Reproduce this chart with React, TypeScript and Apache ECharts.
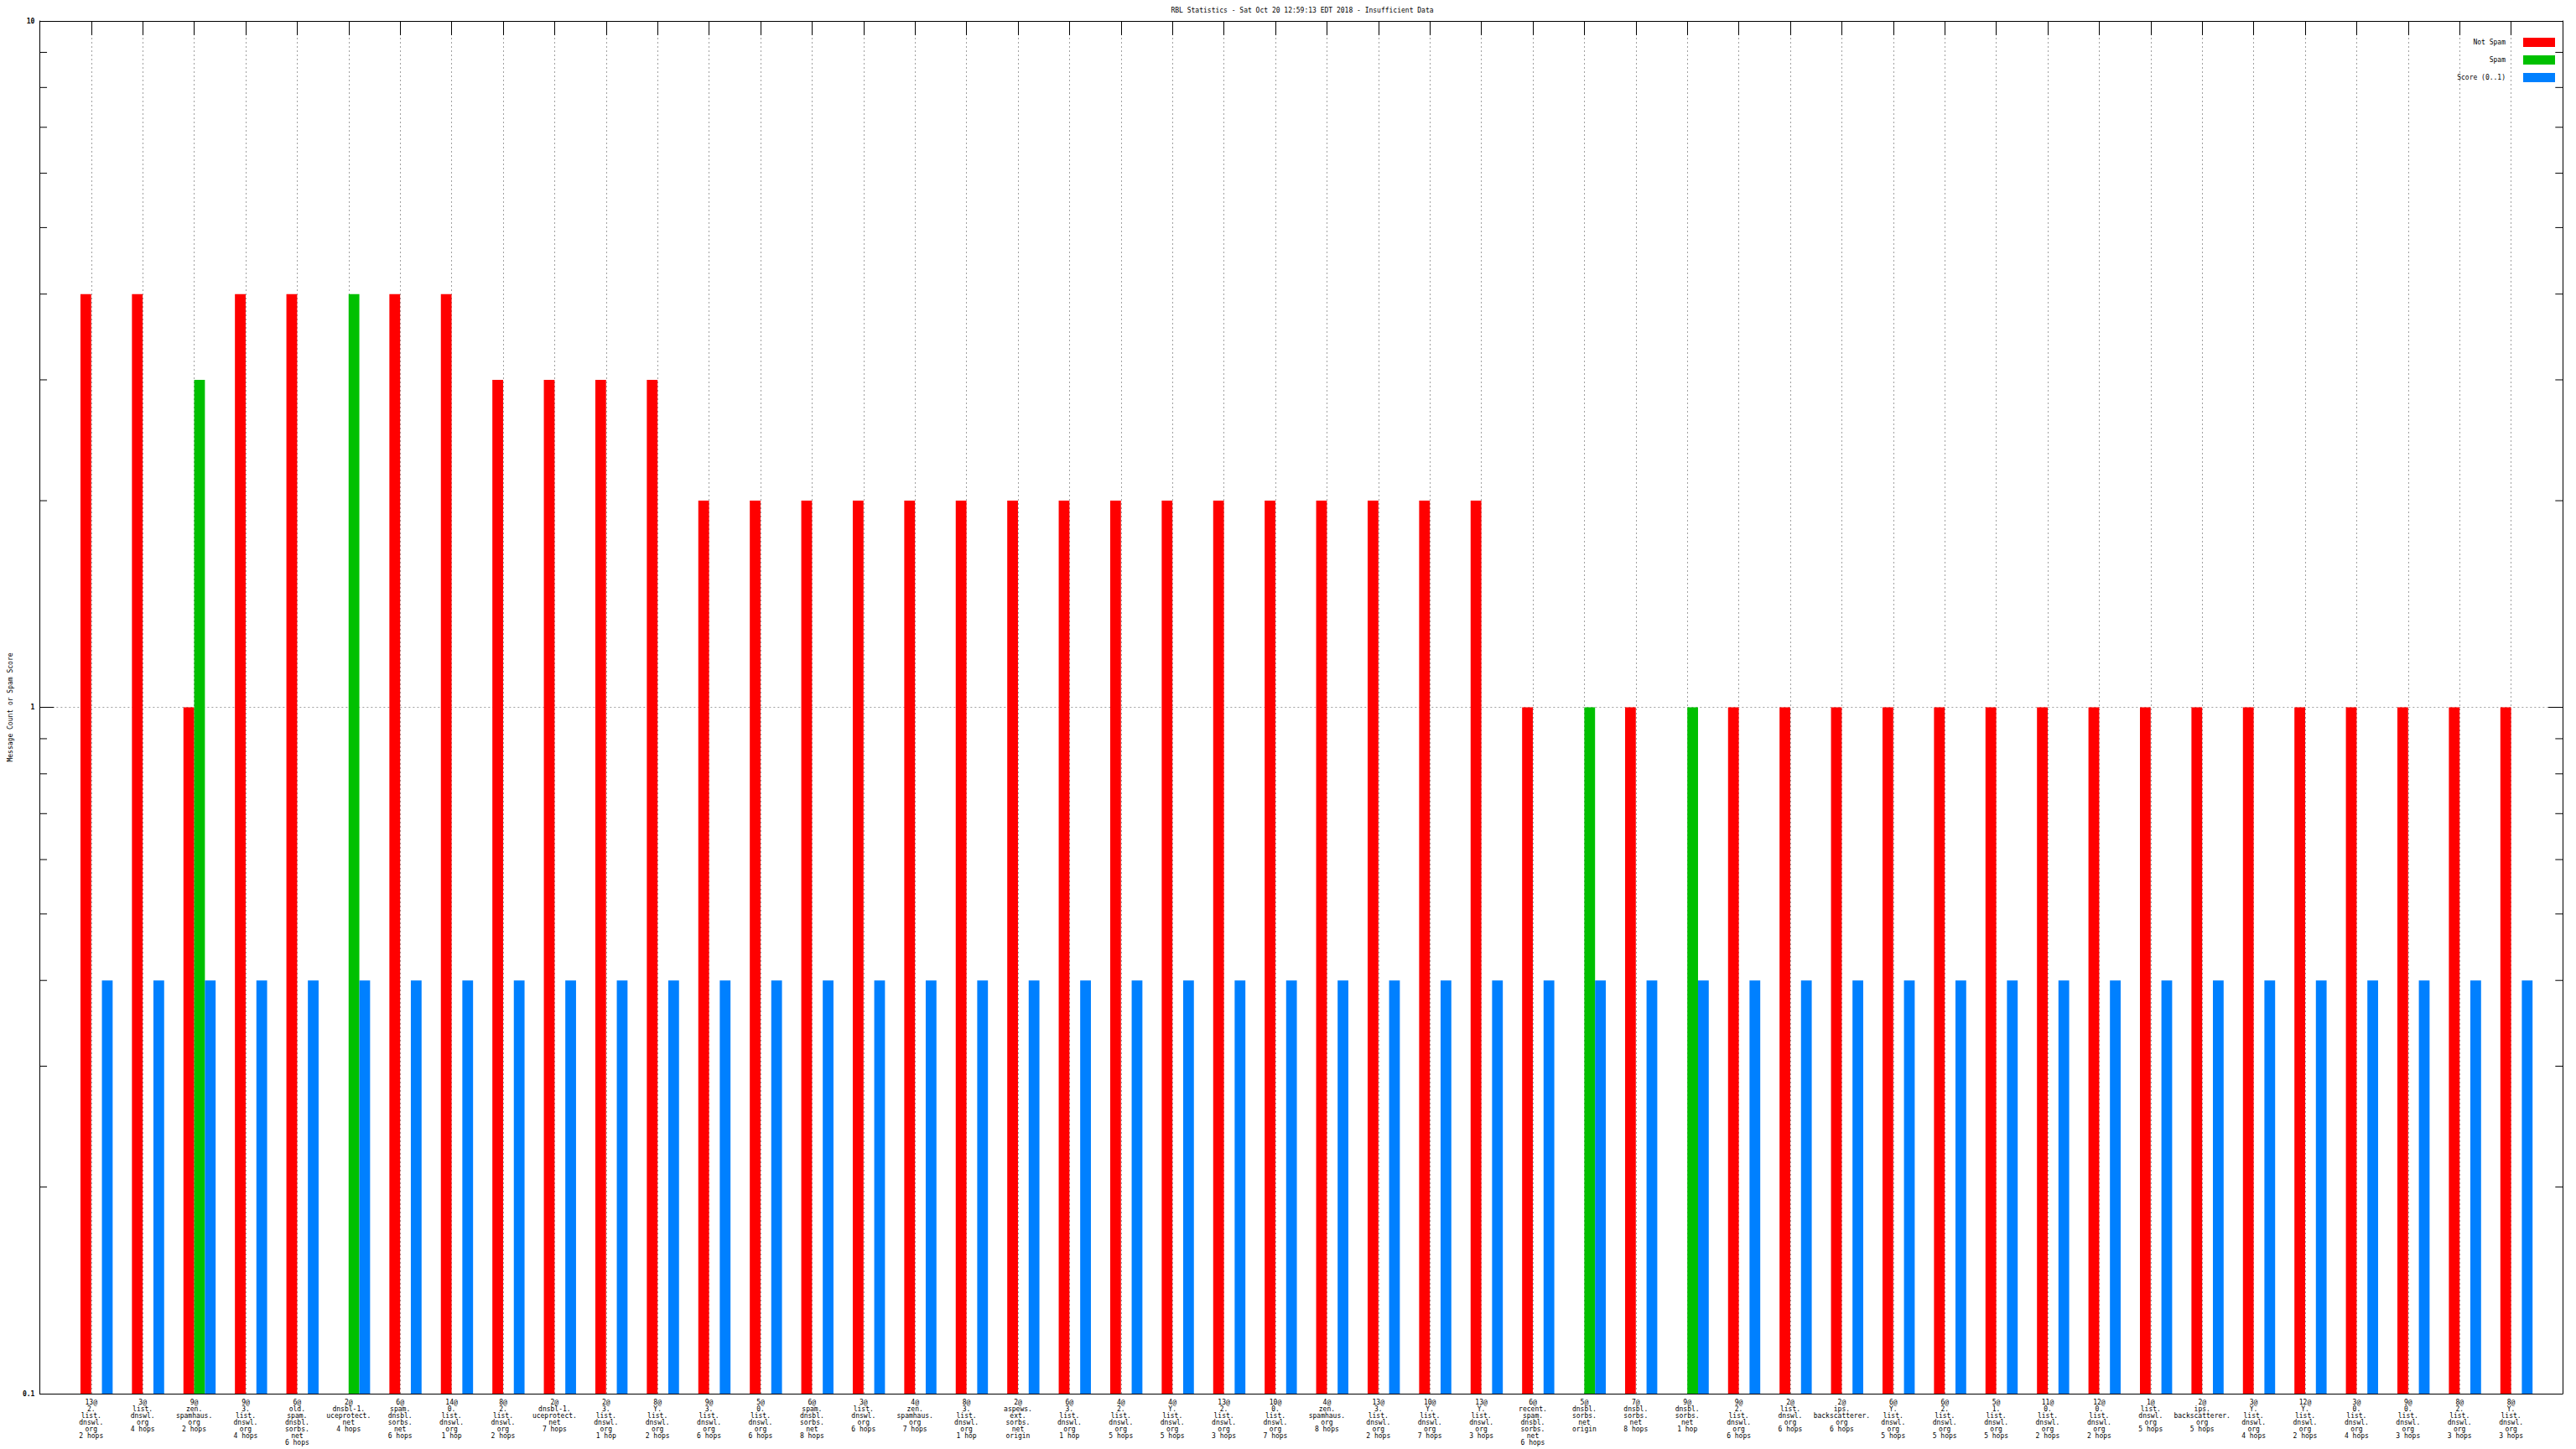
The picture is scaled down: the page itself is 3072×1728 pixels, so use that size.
import React, { useEffect, useRef } from "react";
import * as echarts from "echarts";

const TITLE = "RBL Statistics - Sat Oct 20 12:59:13 EDT 2018 - Insufficient Data";
const Y_NAME = "Message Count or Spam Score";
const SERIES_NAMES = ["Not Spam", "Spam", "Score (0..1)"];

const counts = [13, 3, 9, 9, 6, 2, 6, 14, 8, 2, 2, 8, 9, 5, 6, 3, 4, 8, 2, 6, 4, 4, 13, 10, 4, 13, 10, 13, 6, 5, 7, 9, 9, 2, 2, 6, 6, 5, 11, 12, 1, 2, 3, 12, 3, 9, 8, 8];

const hosts = [
  "2.list.dnswl.org", "list.dnswl.org", "zen.spamhaus.org", "3.list.dnswl.org",
  "old.spam.dnsbl.sorbs.net", "dnsbl-1.uceprotect.net", "spam.dnsbl.sorbs.net", "0.list.dnswl.org",
  "2.list.dnswl.org", "dnsbl-1.uceprotect.net", "3.list.dnswl.org", "Y.list.dnswl.org",
  "3.list.dnswl.org", "0.list.dnswl.org", "spam.dnsbl.sorbs.net", "list.dnswl.org",
  "zen.spamhaus.org", "3.list.dnswl.org", "aspews.ext.sorbs.net", "3.list.dnswl.org",
  "2.list.dnswl.org", "Y.list.dnswl.org", "2.list.dnswl.org", "0.list.dnswl.org",
  "zen.spamhaus.org", "3.list.dnswl.org", "Y.list.dnswl.org", "Y.list.dnswl.org",
  "recent.spam.dnsbl.sorbs.net", "dnsbl.sorbs.net", "dnsbl.sorbs.net", "dnsbl.sorbs.net",
  "2.list.dnswl.org", "list.dnswl.org", "ips.backscatterer.org", "Y.list.dnswl.org",
  "2.list.dnswl.org", "1.list.dnswl.org", "0.list.dnswl.org", "0.list.dnswl.org",
  "list.dnswl.org", "ips.backscatterer.org", "Y.list.dnswl.org", "Y.list.dnswl.org",
  "0.list.dnswl.org", "0.list.dnswl.org", "2.list.dnswl.org", "Y.list.dnswl.org",
];

const hops = [
  "2 hops", "4 hops", "2 hops", "4 hops", "6 hops", "4 hops", "6 hops", "1 hop",
  "2 hops", "7 hops", "1 hop", "2 hops", "6 hops", "6 hops", "8 hops", "6 hops",
  "7 hops", "1 hop", "origin", "1 hop", "5 hops", "5 hops", "3 hops", "7 hops",
  "8 hops", "2 hops", "7 hops", "3 hops", "6 hops", "origin", "8 hops", "1 hop",
  "6 hops", "6 hops", "6 hops", "5 hops", "5 hops", "5 hops", "2 hops", "2 hops",
  "5 hops", "5 hops", "4 hops", "2 hops", "4 hops", "3 hops", "3 hops", "3 hops",
];

const notSpam = [
  4, 4, 1, 4, 4, null, 4, 4, 3, 3, 3, 3, 2, 2, 2, 2,
  2, 2, 2, 2, 2, 2, 2, 2, 2, 2, 2, 2, 1, null, 1, null,
  1, 1, 1, 1, 1, 1, 1, 1, 1, 1, 1, 1, 1, 1, 1, 1,
];

const spam = [
  null, null, 3, null, null, 4, null, null, null, null, null, null, null, null, null, null,
  null, null, null, null, null, null, null, null, null, null, null, null, null, 1, null, 1,
  null, null, null, null, null, null, null, null, null, null, null, null, null, null, null, null,
];

const score = [
  0.4, 0.4, 0.4, 0.4, 0.4, 0.4, 0.4, 0.4, 0.4, 0.4, 0.4, 0.4, 0.4, 0.4, 0.4, 0.4,
  0.4, 0.4, 0.4, 0.4, 0.4, 0.4, 0.4, 0.4, 0.4, 0.4, 0.4, 0.4, 0.4, 0.4, 0.4, 0.4,
  0.4, 0.4, 0.4, 0.4, 0.4, 0.4, 0.4, 0.4, 0.4, 0.4, 0.4, 0.4, 0.4, 0.4, 0.4, 0.4,
];

const minorTickValues = [0.2, 0.3, 0.4, 0.5, 0.6, 0.7, 0.8, 0.9, 2, 3, 4, 5, 6, 7, 8, 9];

const FONT = "DejaVu Sans Mono";

function hostLines(h: string) {
  const parts = h.split(".");
  return parts.map((p, i) => (i < parts.length - 1 ? p + "." : p)).join("\n");
}

// padded with an empty slot on each side, like the original plot's x range
const labels = ["", ...counts.map((c, i) => `${c}@\n${hostLines(hosts[i])}\n${hops[i]}`), ""];
const pad = (arr: (number | null)[]) => [null, ...arr, null];

export default function App() {
  const ref = useRef<HTMLDivElement>(null);
  useEffect(() => {
    if (!ref.current) return;
    const chart = echarts.init(ref.current, null, { renderer: "svg" });
    const lastIdx = labels.length - 1;
    const barW = 12.8;
    const option: any = {
      animation: false,
      backgroundColor: "#ffffff",
      title: {
        text: TITLE,
        left: 1548,
        textAlign: "center",
        top: 3,
        textStyle: { fontFamily: FONT, fontSize: 8, fontWeight: "normal", color: "#000" },
      },
      legend: {
        data: SERIES_NAMES,
        orient: "vertical",
        right: 20,
        top: 40,
        align: "right",
        itemWidth: 38,
        itemHeight: 11,
        itemGap: 10,
        icon: "rect",
        selectedMode: false,
        textStyle: { fontFamily: FONT, fontSize: 8, color: "#000", padding: [0, 16, 0, 0] },
      },
      grid: { left: 40, right: 16, top: 25, bottom: 66, containLabel: false },
      xAxis: [
        {
          type: "category",
          data: labels,
          boundaryGap: false,
          position: "bottom",
          axisLine: { lineStyle: { color: "#000", width: 1 } },
          axisTick: { show: false, interval: 0 },
          axisLabel: {
            interval: 0,
            fontFamily: FONT,
            fontSize: 8,
            lineHeight: 8,
            color: "#000",
            margin: 6,
            align: "center",
          },
          splitLine: {
            show: true,
            interval: 0,
            lineStyle: { color: "#a0a0a0", type: [2, 3], width: 1 },
          },
        },
        {
          type: "category",
          data: labels,
          boundaryGap: false,
          position: "top",
          axisLine: { lineStyle: { color: "#000", width: 1 } },
          axisTick: { show: true, inside: true, length: 17, interval: 0, lineStyle: { color: "#000", width: 1 } },
          axisLabel: { show: false },
          splitLine: { show: false },
        },
      ],
      yAxis: [
        {
          type: "log",
          logBase: 10,
          min: 0.1,
          max: 10,
          startValue: 0.1,
          position: "left",
          name: Y_NAME,
          nameLocation: "middle",
          nameGap: 30,
          nameRotate: 90,
          nameTextStyle: { fontFamily: FONT, fontSize: 8, color: "#000" },
          axisLine: { show: true, lineStyle: { color: "#000", width: 1 } },
          axisTick: { show: true, inside: true, length: 17, lineStyle: { color: "#000", width: 1 } },
          axisLabel: {
            fontFamily: FONT,
            fontSize: 8,
            fontWeight: "bold",
            color: "#000",
            margin: 6,
            formatter: (v: number) => (v < 1 ? v.toFixed(1) : String(Math.round(v))),
          },
          splitLine: { show: true, lineStyle: { color: "#a0a0a0", type: [2, 3], width: 1 } },
        },
        {
          type: "log",
          logBase: 10,
          min: 0.1,
          max: 10,
          startValue: 0.1,
          position: "right",
          axisLine: { show: true, lineStyle: { color: "#000", width: 1 } },
          axisTick: { show: true, inside: true, length: 17, lineStyle: { color: "#000", width: 1 } },
          axisLabel: { show: false },
          splitLine: { show: false },
        },
      ],
      series: [
        {
          type: "bar",
          name: "__pad",
          data: pad(labels.slice(1, -1).map(() => null)),
          barWidth: barW,
          barGap: "0%",
          silent: true,
          itemStyle: { color: "rgba(0,0,0,0)" },
        },
        {
          type: "bar",
          name: SERIES_NAMES[0],
          data: pad(notSpam),
          barWidth: barW,
          barGap: "0%",
          itemStyle: { color: "#ff0000" },
        },
        {
          type: "bar",
          name: SERIES_NAMES[1],
          data: pad(spam),
          barWidth: barW,
          barGap: "0%",
          itemStyle: { color: "#00c000" },
        },
        {
          type: "bar",
          name: SERIES_NAMES[2],
          data: pad(score),
          barWidth: barW,
          barGap: "0%",
          itemStyle: { color: "#0080ff" },
        },
        {
          type: "custom",
          name: "__minor",
          silent: true,
          clip: false,
          z: 5,
          data: minorTickValues.map((v) => [0, v]),
          renderItem: (params: any, api: any) => {
            const v = api.value(1);
            const l = api.coord([0, v]);
            const r = api.coord([lastIdx, v]);
            const style = { stroke: "#000", lineWidth: 1 };
            return {
              type: "group",
              children: [
                { type: "line", shape: { x1: l[0], y1: l[1], x2: l[0] + 8.7, y2: l[1] }, style },
                { type: "line", shape: { x1: r[0] - 8.7, y1: r[1], x2: r[0], y2: r[1] }, style },
              ],
            };
          },
        },
      ],
    };
    chart.setOption(option);
    return () => chart.dispose();
  }, []);
  return (
    <div
      ref={ref}
      style={{ position: "absolute", left: 0, top: 0, width: 3072, height: 1728, background: "#fff" }}
    />
  );
}
